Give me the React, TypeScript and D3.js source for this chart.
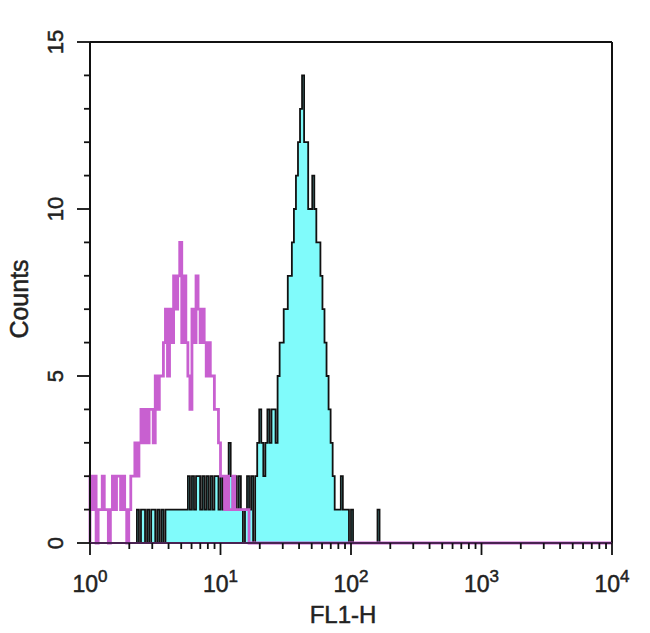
import React from "react";
import * as d3 from "d3";

const W = 650;
const H = 633;
const CHANNELS_PER_DECADE = 64;

// Isotype control (magenta outline), counts per channel starting at channel 0
const pinkStart = 0;
const pinkCounts = [
  2, 1, 2, 0, 1, 1, 2, 1, 1, 0,
  1, 2, 1, 2, 2, 1, 2, 1, 0, 1,
  2, 2, 3, 2, 3, 4, 3, 4, 3, 4,
  4, 3, 5, 4, 5, 5, 6, 7, 5, 7,
  6, 8, 7, 8, 9, 6, 8, 6, 5, 4,
  7, 6, 8, 7, 6, 7, 6, 5, 6, 5,
  5, 4, 4, 3, 2, 2, 1, 2, 1, 1,
  2, 1, 1, 1, 1, 1, 1, 1, 0,
];

// Stained sample (cyan fill, black outline), counts per channel starting at channel 22
const cyanStart = 22;
const cyanCounts = [
  0, 1, 0, 1, 1, 0, 1, 0, 1, 1, 0, 1, 0, 1, 0,
  1, 1, 1, 1, 1, 1, 1, 1, 1, 1, 1,
  2, 1, 2, 1, 2, 2, 1, 2, 1, 2, 1, 2, 1, 2, 2, 1, 2, 1, 2, 2, 3, 2, 1, 2, 1, 2, 1, 0, 1, 2, 1, 2, 0,
  2, 3, 4, 3, 2, 3, 4, 3, 4, 4, 3, 5, 6, 6, 7, 7, 8, 8, 9, 10, 11, 12, 13, 14, 12, 12,
  10, 10, 11, 10, 9, 9, 8, 7, 6, 5, 4, 3, 2, 1, 1, 1, 2, 1, 1, 1, 0, 1, 0,
  0, 0, 0, 0, 0, 0, 0, 0, 0, 0, 0, 1, 0,
];

const xDecades = [0, 1, 2, 3, 4];
const yMajorTicks = [0, 5, 10, 15];
const yMinorTicks = [1, 2, 3, 4, 6, 7, 8, 9, 11, 12, 13, 14];
const minorMultipliers = [2, 3, 4, 5, 6, 7, 8, 9];
const xTitle = "FL1-H";
const yTitle = "Counts";

const FONT = "'Liberation Sans', Arial, Helvetica, sans-serif";

export default function App() {
  const x = d3.scaleLog().domain([1, 1e4]).range([90, 612]);
  const y = d3.scaleLinear().domain([0, 15]).range([543, 42]);
  const edge = (c: number) => Math.pow(10, c / CHANNELS_PER_DECADE);

  const stepPoints = (start: number, counts: number[]): [number, number][] => {
    const pts: [number, number][] = [[edge(start), 0]];
    counts.forEach((v, i) => pts.push([edge(start + i), v]));
    const last = counts[counts.length - 1];
    pts.push([edge(start + counts.length), last]);
    pts.push([edge(start + counts.length), 0]);
    return pts;
  };

  const line = d3
    .line<[number, number]>()
    .x((d) => x(d[0]))
    .y((d) => y(d[1]))
    .curve(d3.curveStepAfter);
  const area = d3
    .area<[number, number]>()
    .x((d) => x(d[0]))
    .y0(y(0))
    .y1((d) => y(d[1]))
    .curve(d3.curveStepAfter);

  const cyanPts = stepPoints(cyanStart, cyanCounts);
  const pinkPts = stepPoints(pinkStart, pinkCounts);
  pinkPts.push([1e4, 0]);

  const xMinor: number[] = [];
  xDecades.slice(0, -1).forEach((d) =>
    minorMultipliers.forEach((m) => xMinor.push(m * Math.pow(10, d)))
  );

  const [x0, x1] = x.range();
  const [yb, yt] = y.range();

  return (
    <svg
      width={W}
      height={H}
      style={{ position: "absolute", left: 0, top: 0, background: "#fff" }}
    >
      <rect x={0} y={0} width={W} height={H} fill="#fff" />
      {/* cyan histogram */}
      <path d={area(cyanPts) || ""} fill="#80fbfb" stroke="none" />
      <path d={line(cyanPts) || ""} fill="none" stroke="#111" strokeWidth={1.8} />
      {/* pink histogram */}
      <path
        d={line(pinkPts) || ""}
        fill="none"
        stroke="#c860d0"
        strokeWidth={2.8}
        strokeLinejoin="miter"
      />
      {/* frame */}
      <g stroke="#111" strokeWidth={2} fill="none">
        <line x1={x0} y1={yt} x2={x1} y2={yt} />
        <line x1={x1} y1={yt} x2={x1} y2={yb} />
        <line x1={x0} y1={yt} x2={x0} y2={yb} />
      </g>
      <line x1={x0} y1={yb} x2={x1} y2={yb} stroke="#4a2352" strokeWidth={2} />
      {/* y ticks */}
      <g stroke="#111" strokeWidth={1.8}>
        {yMinorTicks.map((t) => (
          <line key={"ym" + t} x1={x0 - 6} x2={x0} y1={y(t)} y2={y(t)} />
        ))}
        {yMajorTicks.map((t) => (
          <line key={"yM" + t} x1={x0 - 13} x2={x0} y1={y(t)} y2={y(t)} />
        ))}
      </g>
      {yMajorTicks.map((t) => (
        <text
          key={"yl" + t}
          transform={`translate(63,${y(t)}) rotate(-90)`}
          textAnchor="middle"
          fontFamily={FONT}
          fontSize={22}
          fill="#222"
          stroke="#222"
          strokeWidth={0.5}
        >
          {t}
        </text>
      ))}
      {/* x ticks */}
      <g stroke="#111" strokeWidth={1.8}>
        {xMinor.map((t) => (
          <line key={"xm" + t} x1={x(t)} x2={x(t)} y1={yb} y2={yb + 6} />
        ))}
        {xDecades.map((d) => (
          <line
            key={"xM" + d}
            x1={x(Math.pow(10, d))}
            x2={x(Math.pow(10, d))}
            y1={yb}
            y2={yb + 12}
          />
        ))}
      </g>
      {xDecades.map((d) => (
        <text
          key={"xl" + d}
          x={x(Math.pow(10, d))}
          y={592}
          textAnchor="middle"
          fontFamily={FONT}
          fontSize={23}
          fill="#222"
          stroke="#222"
          strokeWidth={0.5}
        >
          10
          <tspan fontSize={17} dy={-10}>
            {d}
          </tspan>
        </text>
      ))}
      <text
        x={343}
        y={623}
        textAnchor="middle"
        fontFamily={FONT}
        fontSize={24}
        fill="#222"
        stroke="#222"
        strokeWidth={0.5}
      >
        {xTitle}
      </text>
      <text
        transform={`translate(28,${299}) rotate(-90)`}
        textAnchor="middle"
        fontFamily={FONT}
        fontSize={25}
        fill="#222"
        stroke="#222"
        strokeWidth={0.5}
      >
        {yTitle}
      </text>
    </svg>
  );
}
